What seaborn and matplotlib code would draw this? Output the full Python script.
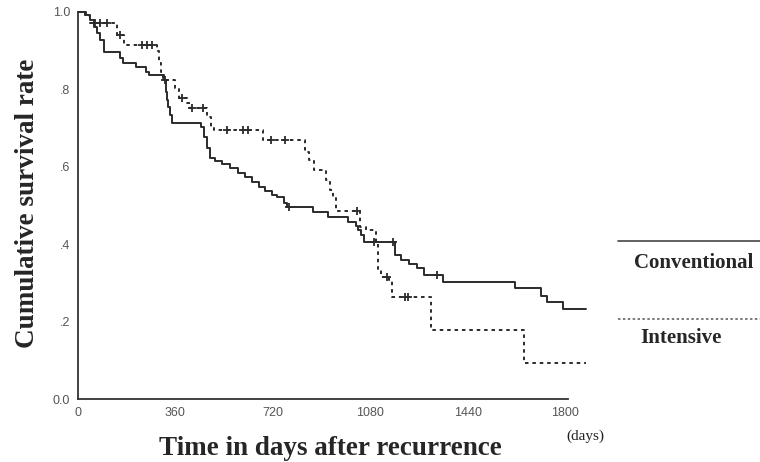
import matplotlib
matplotlib.use("Agg")
import matplotlib.pyplot as plt
import numpy as np
import pandas as pd
import seaborn as sns
from matplotlib.lines import Line2D

# Kaplan-Meier steps (day of step, survival after step)
conv_days = [0, 30, 44, 59, 70, 81, 96, 155, 166, 214, 251, 262, 318, 325, 329, 332, 340, 347,
             454, 465, 476, 487, 506, 532, 561, 591, 617, 642, 668, 690, 716, 735, 761, 772,
             868, 923, 997, 1026, 1034, 1045, 1056, 1170, 1193, 1222, 1252, 1277, 1348,
             1613, 1709, 1732, 1791, 1876]
conv_surv = [1.0, 0.992, 0.979, 0.961, 0.946, 0.928, 0.897, 0.881, 0.868, 0.858, 0.845, 0.837,
             0.824, 0.793, 0.773, 0.755, 0.734, 0.713, 0.703, 0.677, 0.649, 0.623, 0.615, 0.607,
             0.597, 0.584, 0.574, 0.561, 0.548, 0.537, 0.527, 0.522, 0.506, 0.496, 0.483, 0.470,
             0.457, 0.447, 0.437, 0.424, 0.406, 0.372, 0.359, 0.349, 0.339, 0.320, 0.302,
             0.287, 0.266, 0.251, 0.233, 0.233]
int_days = [0, 26, 44, 144, 170, 292, 299, 306, 314, 318, 358, 373, 402, 413, 476, 491, 502,
            683, 838, 853, 871, 916, 930, 941, 953, 1041, 1063, 1100, 1108, 1119, 1148, 1159,
            1303, 1647, 1876]
int_surv = [1.0, 0.990, 0.972, 0.94, 0.915, 0.899, 0.868, 0.845, 0.829, 0.824, 0.804, 0.778,
            0.765, 0.752, 0.729, 0.700, 0.695, 0.669, 0.638, 0.618, 0.592, 0.566, 0.540, 0.519,
            0.485, 0.444, 0.437, 0.403, 0.333, 0.315, 0.307, 0.264, 0.178, 0.093, 0.093]

# censored observations (+ marks)
conv_cens_days = [779, 1093, 1163, 1325]
conv_cens_surv = [0.496, 0.406, 0.406, 0.320]
int_cens_days = [63, 81, 107, 155, 236, 255, 273, 321, 384, 421, 461, 550, 609, 628, 713, 764,
                 1030, 1141, 1207, 1218]
int_cens_surv = [0.972, 0.972, 0.972, 0.94, 0.915, 0.915, 0.915, 0.824, 0.778, 0.752, 0.752,
                 0.695, 0.695, 0.695, 0.669, 0.669, 0.485, 0.315, 0.264, 0.264]

groups = ["Conventional", "Intensive"]
x_ticks = [0, 360, 720, 1080, 1440, 1800]
y_ticks = [0.0, 0.2, 0.4, 0.6, 0.8, 1.0]
y_tick_labels = ["0.0", ".2", ".4", ".6", ".8", "1.0"]

steps = pd.concat([
    pd.DataFrame({"day": conv_days, "surv": conv_surv, "group": groups[0]}),
    pd.DataFrame({"day": int_days, "surv": int_surv, "group": groups[1]}),
], ignore_index=True)
cens = pd.concat([
    pd.DataFrame({"day": conv_cens_days, "surv": conv_cens_surv, "group": groups[0]}),
    pd.DataFrame({"day": int_cens_days, "surv": int_cens_surv, "group": groups[1]}),
], ignore_index=True)

sns.set_style("white")
plt.rcParams["font.family"] = ["Liberation Serif", "DejaVu Serif"]

W, H = 760, 462
fig = plt.figure(figsize=(W / 100, H / 100), dpi=100)
ax = fig.add_axes([78 / W, 63 / H, 509 / W, 387 / H])

line_color = "#2b2b2b"
sns.lineplot(
    data=steps, x="day", y="surv", style="group", style_order=groups,
    dashes={"Conventional": "", "Intensive": (1.8, 2.0)},
    color=line_color, linewidth=1.4, drawstyle="steps-post",
    estimator=None, sort=False, legend=False, ax=ax,
)
for l in ax.lines:
    l.set_clip_on(False)
sns.scatterplot(
    data=cens, x="day", y="surv", marker="+", s=36, color=line_color,
    linewidth=1.3, legend=False, ax=ax, clip_on=False, zorder=3,
)

ax.set_xlim(0, 1880)
ax.set_ylim(0, 1.0)
ax.set_xticks(x_ticks)
ax.set_yticks(y_ticks)
ax.set_yticklabels(y_tick_labels)
sns.despine(ax=ax)
ax.spines["bottom"].set_bounds(0, 1810)
for s in ["left", "bottom"]:
    ax.spines[s].set_color("#333333")
    ax.spines[s].set_linewidth(1.3)
ax.tick_params(axis="both", direction="inout", length=3, width=1.6, color="#333333",
               labelsize=9, labelcolor="#555555", pad=4)
for t in ax.get_xticklabels() + ax.get_yticklabels():
    t.set_family(["Liberation Sans", "DejaVu Sans"])

ax.set_xlabel("Time in days after recurrence", fontsize=19.5, fontweight="bold", va="center")
ax.xaxis.set_label_coords(0.495, -0.128)
ax.set_ylabel("Cumulative survival rate", fontsize=19.5, fontweight="bold", va="center")
ax.yaxis.set_label_coords(-0.1, 0.506)

fig.text(585 / W, 1 - 436 / H, "(days)", fontsize=11, ha="center", va="center", color="#222222")

# legend drawn to the right of the plot, line above the label
fig.add_artist(Line2D([618 / W, 1.0], [1 - 241 / H] * 2, color="#555555", linewidth=1.3))
fig.text(694 / W, 1 - 263 / H, groups[0], fontsize=15, fontweight="bold", ha="center", va="center")
fig.add_artist(Line2D([618 / W, 1.0], [1 - 319 / H] * 2, color="#555555", linewidth=1.1,
                      linestyle=(0, (1.6, 1.6))))
fig.text(681 / W, 1 - 338 / H, groups[1], fontsize=15, fontweight="bold", ha="center", va="center")

fig.savefig("out.png", dpi=100)
